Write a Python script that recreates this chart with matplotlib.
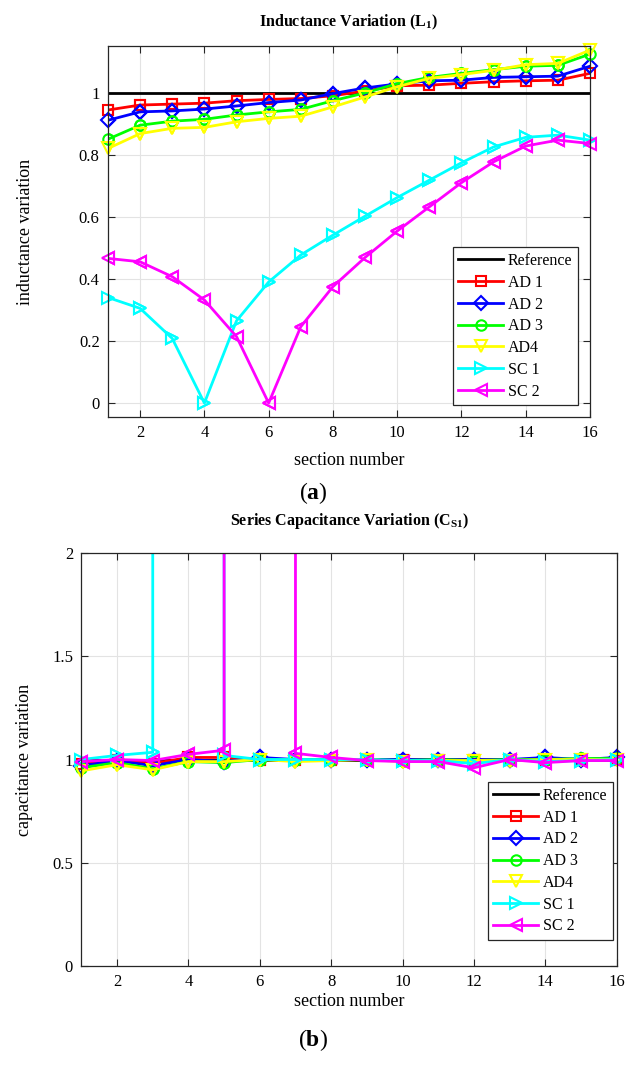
import numpy as np
import matplotlib
matplotlib.use('Agg')
import matplotlib.pyplot as plt

plt.rcParams['font.family'] = ['Liberation Serif', 'DejaVu Serif']
plt.rcParams['mathtext.fontset'] = 'custom'
plt.rcParams['mathtext.rm'] = 'Liberation Serif'
plt.rcParams['mathtext.bf'] = 'Liberation Serif:bold'

# 数据
sections = np.arange(1, 17)
names = ['AD 1', 'AD 2', 'AD 3', 'AD4', 'SC 1', 'SC 2']
colors = ['#ff0000', '#0000ff', '#00ff00', '#ffff00', '#00ffff', '#ff00ff']
markers = ['s', 'D', 'o', 'v', '>', '<']
msizes = [6.5, 7, 7.5, 8.5, 8.5, 8.5]

# (a) 电感变化
L_ad1 = [0.944, 0.960, 0.963, 0.966, 0.974, 0.978, 0.981, 0.990, 1.005, 1.022, 1.024, 1.030, 1.035, 1.038, 1.040, 1.062]
L_ad2 = [0.911, 0.938, 0.941, 0.947, 0.957, 0.968, 0.976, 0.997, 1.015, 1.028, 1.038, 1.040, 1.049, 1.051, 1.053, 1.085]
L_ad3 = [0.850, 0.895, 0.908, 0.914, 0.928, 0.938, 0.946, 0.974, 0.999, 1.029, 1.049, 1.062, 1.074, 1.085, 1.088, 1.124]
L_ad4 = [0.820, 0.868, 0.885, 0.888, 0.906, 0.917, 0.924, 0.954, 0.986, 1.019, 1.046, 1.058, 1.072, 1.090, 1.094, 1.137]
L_sc1 = [0.340, 0.305, 0.208, 0.000, 0.265, 0.390, 0.477, 0.541, 0.602, 0.662, 0.718, 0.774, 0.825, 0.856, 0.863, 0.847]
L_sc2 = [0.466, 0.455, 0.407, 0.332, 0.214, 0.000, 0.246, 0.375, 0.469, 0.554, 0.632, 0.710, 0.777, 0.828, 0.847, 0.836]

# (b) 串联电容变化 (inf = 短路段)
C_ad1 = [0.980, 1.000, 0.980, 1.010, 1.010, 1.000, 1.000, 1.000, 1.000, 1.000, 1.000, 1.000, 1.000, 1.000, 1.000, 1.000]
C_ad2 = [0.970, 0.995, 0.970, 1.000, 0.990, 1.010, 1.000, 1.000, 1.000, 1.000, 1.000, 1.000, 1.000, 1.010, 1.000, 1.010]
C_ad3 = [0.960, 0.985, 0.955, 0.990, 0.985, 1.000, 1.000, 1.000, 1.000, 0.995, 1.000, 0.995, 1.000, 1.000, 1.005, 1.005]
C_ad4 = [0.945, 0.975, 0.950, 0.990, 0.990, 1.000, 0.990, 0.995, 1.000, 0.990, 0.995, 0.995, 0.995, 1.000, 1.000, 1.000]
C_sc1 = [1.000, 1.020, 1.035, np.inf, 1.020, 1.000, 1.000, 1.000, 1.000, 0.995, 0.995, 0.980, 1.000, 0.990, 0.995, 1.000]
C_sc2 = [0.990, 1.000, 0.995, 1.025, 1.045, np.inf, 1.030, 1.010, 0.995, 0.990, 0.990, 0.960, 1.000, 0.985, 0.995, 0.995]

L_data = [L_ad1, L_ad2, L_ad3, L_ad4, L_sc1, L_sc2]
C_data = [C_ad1, C_ad2, C_ad3, C_ad4, C_sc1, C_sc2]


def draw_panel(ax, data, ylim, yticks, yticklabels, title, ylabel, legend_anchor,
               title_y, xlab_y, ylab_x):
    ax.plot([1, 16], [1, 1], color='black', lw=2, label='Reference')
    for y, name, c, m, ms in zip(data, names, colors, markers, msizes):
        y = np.array(y, dtype=float)
        # 像 MATLAB 一样，inf 画成竖直线冲出坐标
        y[np.isinf(y)] = 1e6
        ax.plot(sections, y, color=c, lw=2, marker=m, ms=ms, mfc='none',
                mec=c, mew=1.5, label=name)
        # 标记不裁剪 (MATLAB 风格)
        ok = y < 100
        ax.plot(sections[ok], y[ok], ls='none', marker=m, ms=ms, mfc='none',
                mec=c, mew=1.5, clip_on=False)
    ax.set_xlim(1, 16)
    ax.set_ylim(*ylim)
    ax.set_xticks(np.arange(2, 17, 2))
    ax.set_yticks(yticks)
    ax.set_yticklabels(yticklabels)
    ax.grid(True, color='#e3e3e3', lw=0.8)
    ax.set_axisbelow(True)
    ax.tick_params(direction='in', top=True, right=True, labelsize=12,
                   color='#262626', length=5, pad=6)
    for s in ax.spines.values():
        s.set_color('#262626')
        s.set_linewidth(0.9)
    ax.text(0.5, title_y, title, transform=ax.transAxes, ha='center', va='center',
            fontsize=11.5, fontweight='bold')
    ax.set_xlabel('section number', fontsize=13)
    ax.set_ylabel(ylabel, fontsize=13)
    ax.xaxis.set_label_coords(0.5, xlab_y)
    ax.yaxis.set_label_coords(ylab_x, 0.5)
    leg = ax.legend(loc='lower right', bbox_to_anchor=legend_anchor,
                    fontsize=11.5, fancybox=False, framealpha=1,
                    edgecolor='#262626', handlelength=2.8, borderaxespad=0,
                    borderpad=0.35, labelspacing=0.36, handletextpad=0.3)
    leg.get_frame().set_linewidth(0.9)


fig = plt.figure(figsize=(6.26, 10.66), dpi=100)
ax1 = fig.add_axes([0.1725, 0.6088, 0.770, 0.348])
ax2 = fig.add_axes([0.130, 0.0938, 0.855, 0.3874])

draw_panel(ax1, L_data, (-0.045, 1.15), [0, 0.2, 0.4, 0.6, 0.8, 1],
           ['0', '0.2', '0.4', '0.6', '0.8', '1'],
           r'Inductance Variation ($\mathbf{L_1}$)', 'inductance variation',
           (0.975, 0.032), 1.065, -0.094, -0.153)
draw_panel(ax2, C_data, (0, 2), [0, 0.5, 1, 1.5, 2],
           ['0', '0.5', '1', '1.5', '2'],
           r'Series Capacitance Variation ($\mathbf{C_{S1}}$)', 'capacitance variation',
           (0.993, 0.063), 1.078, -0.065, -0.09)

fig.text(0.5, 1 - 493 / 1066, r'($\mathbf{a}$)', ha='center', va='center', fontsize=17)
fig.text(0.5, 1 - 1040 / 1066, r'($\mathbf{b}$)', ha='center', va='center', fontsize=17)

plt.savefig('out.png', dpi=100)
